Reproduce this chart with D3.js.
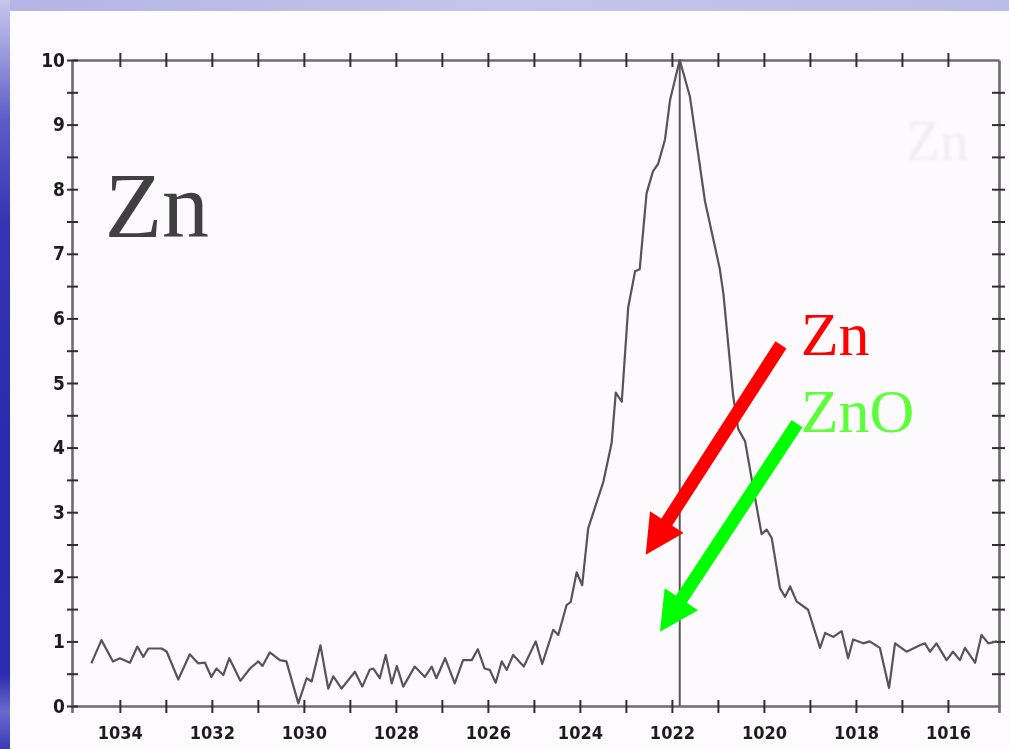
<!DOCTYPE html>
<html>
<head>
<meta charset="utf-8">
<script src="https://cdn.jsdelivr.net/npm/d3@7"></script>
<style>
  html, body { margin: 0; padding: 0; background: #fff; overflow: hidden; }
  svg { display: block; }
</style>
</head>
<body>
<div id="chart"></div>
<script>
const W = 1009;
const H = 749;

// spectrum (binding energy in eV, intensity in a.u.)
const bindingEnergy = [
  1034.62, 1034.40, 1034.15, 1034.00, 1033.78, 1033.62, 1033.49, 1033.38, 1033.09, 1032.98,
  1032.73, 1032.48, 1032.30, 1032.15, 1032.01, 1031.90, 1031.75, 1031.62, 1031.38, 1031.17,
  1030.99, 1030.90, 1030.74, 1030.52, 1030.38, 1030.12, 1029.94, 1029.83, 1029.64, 1029.47,
  1029.36, 1029.18, 1028.89, 1028.73, 1028.57, 1028.49, 1028.35, 1028.22, 1028.09, 1027.98,
  1027.84, 1027.59, 1027.37, 1027.22, 1027.12, 1026.93, 1026.72, 1026.54, 1026.35, 1026.22,
  1026.07, 1025.96, 1025.83, 1025.70, 1025.59, 1025.45, 1025.22, 1024.96, 1024.82, 1024.58,
  1024.47, 1024.29, 1024.20, 1024.07, 1023.95, 1023.82, 1023.49, 1023.31, 1023.22, 1023.09,
  1022.95, 1022.80, 1022.70, 1022.55, 1022.41, 1022.30, 1022.15, 1022.04, 1021.83, 1021.61,
  1021.28, 1020.96, 1020.88, 1020.67, 1020.56, 1020.41, 1020.20, 1020.05, 1019.94, 1019.83,
  1019.65, 1019.54, 1019.43, 1019.29, 1019.04, 1018.78, 1018.67, 1018.49, 1018.31, 1018.17,
  1018.06, 1017.84, 1017.70, 1017.48, 1017.28, 1017.15, 1016.90, 1016.61, 1016.50, 1016.39,
  1016.25, 1016.03, 1015.89, 1015.74, 1015.63, 1015.41, 1015.27, 1015.12, 1014.94
];
const intensity = [
  0.66, 1.02, 0.69, 0.74, 0.67, 0.92, 0.76, 0.89, 0.89, 0.84,
  0.41, 0.80, 0.66, 0.67, 0.45, 0.58, 0.48, 0.74, 0.39, 0.58,
  0.69, 0.62, 0.83, 0.71, 0.69, 0.04, 0.43, 0.38, 0.94, 0.27,
  0.46, 0.27, 0.53, 0.30, 0.56, 0.58, 0.43, 0.79, 0.35, 0.62,
  0.30, 0.61, 0.45, 0.61, 0.43, 0.74, 0.35, 0.71, 0.71, 0.88,
  0.58, 0.56, 0.36, 0.69, 0.56, 0.79, 0.61, 1.00, 0.65, 1.18,
  1.10, 1.56, 1.61, 2.07, 1.87, 2.75, 3.47, 4.07, 4.85, 4.71,
  6.17, 6.73, 6.76, 7.94, 8.28, 8.39, 8.77, 9.38, 10.0, 9.44,
  7.81, 6.77, 6.38, 4.81, 4.29, 4.10, 3.25, 2.66, 2.73, 2.60,
  1.82, 1.69, 1.85, 1.62, 1.49, 0.90, 1.13, 1.07, 1.16, 0.74,
  1.03, 0.97, 1.00, 0.90, 0.28, 0.97, 0.84, 0.94, 0.97, 0.84,
  0.97, 0.71, 0.84, 0.71, 0.90, 0.67, 1.10, 0.97, 1.00
];

const xDomain = [1035.04, 1014.89];
const yDomain = [0, 10];
const xTickValues = d3.range(1016, 1035, 1);      // every eV, labels on even ones
const yTickValues = d3.range(0, 10.01, 0.5);      // every half unit, labels on integers
const peakPosition = 1021.83;

// annotations, in data units
const bigLabel = { text: 'Zn', be: 1034.33, y: 7.26 };
const arrows = [
  { name: 'Zn',  color: '#ff0000', text: '#ff0000', from: [1019.63, 5.59], to: [1022.57, 2.34], label: [1019.20, 5.43] },
  { name: 'ZnO', color: '#00ff00', text: '#5cff3a', from: [1019.28, 4.37], to: [1022.26, 1.15], label: [1019.20, 4.24] }
];

const x = d3.scaleLinear().domain(xDomain).range([72, 999]);
const y = d3.scaleLinear().domain(yDomain).range([706, 60]);

const svg = d3.select('#chart').append('svg')
  .attr('width', W)
  .attr('height', H)
  .attr('viewBox', `0 0 ${W} ${H}`);

const defs = svg.append('defs');

// slide background: light band on top, blue strip on the left
const leftGrad = defs.append('linearGradient')
  .attr('id', 'leftGrad').attr('x1', 0).attr('y1', 0).attr('x2', 0).attr('y2', 1);
[
  [0, '#c6c6ee'], [0.06, '#a2a2e0'], [0.16, '#5c5cc8'], [0.3, '#3434b4'],
  [0.6, '#2a2aae'], [0.9, '#2c2cb0'], [0.95, '#6a6acc'], [1, '#3a3ab6']
].forEach(([o, c]) => leftGrad.append('stop').attr('offset', o).attr('stop-color', c));

const topGrad = defs.append('linearGradient')
  .attr('id', 'topGrad').attr('x1', 0).attr('y1', 0).attr('x2', 1).attr('y2', 0);
topGrad.append('stop').attr('offset', 0).attr('stop-color', '#b4b4e4');
topGrad.append('stop').attr('offset', 0.5).attr('stop-color', '#c4c4ec');
topGrad.append('stop').attr('offset', 1).attr('stop-color', '#bcbce8');

defs.append('filter').attr('id', 'soft')
  .append('feGaussianBlur').attr('stdDeviation', 0.55);
defs.append('filter').attr('id', 'ghost')
  .append('feGaussianBlur').attr('stdDeviation', 1.5);

svg.append('rect').attr('width', W).attr('height', H).attr('fill', '#fdfbfd');
svg.append('rect').attr('width', W).attr('height', 11).attr('fill', 'url(#topGrad)');
svg.append('rect').attr('width', 10).attr('height', H).attr('fill', 'url(#leftGrad)');

// plot area tint
svg.append('rect')
  .attr('x', x(xDomain[0])).attr('y', y(10))
  .attr('width', x(xDomain[1]) - x(xDomain[0]))
  .attr('height', y(0) - y(10))
  .attr('fill', '#fcfafc');

// faint ghost of the scanned page
svg.append('text')
  .attr('x', 906).attr('y', 160)
  .attr('font-family', 'Liberation Serif, serif')
  .attr('font-size', 56)
  .attr('fill', '#efedf1')
  .attr('filter', 'url(#ghost)')
  .text('Zn');

const chart = svg.append('g').attr('filter', 'url(#soft)');

const labelFont = 'DejaVu Sans Condensed, DejaVu Sans, sans-serif';

function styleAxis(g) {
  g.select('.domain').attr('stroke', '#6c6c6c').attr('stroke-width', 2.6);
  g.selectAll('.tick line').attr('stroke', '#2e2e2e').attr('stroke-width', 2);
  g.selectAll('.tick text')
    .attr('fill', '#1e1e1e')
    .attr('font-family', labelFont)
    .attr('font-weight', 'bold')
    .attr('font-size', 18);
}

// bottom axis
const xBottom = chart.append('g')
  .attr('transform', `translate(0,${y(0)})`)
  .call(d3.axisBottom(x).tickValues(xTickValues).tickSizeOuter(0).tickSize(7)
    .tickFormat(d => (d % 2 === 0 ? d : '')))
  .call(styleAxis);
xBottom.selectAll('.tick line').attr('y1', -6).attr('y2', 7);
xBottom.selectAll('.tick text').attr('y', 20).attr('dy', '0.71em');

// top axis
const xTop = chart.append('g')
  .attr('transform', `translate(0,${y(10)})`)
  .call(d3.axisTop(x).tickValues(xTickValues).tickSizeOuter(0).tickFormat(''))
  .call(styleAxis);
xTop.selectAll('.tick line').attr('y1', -7).attr('y2', 7);

// left axis
const yLeft = chart.append('g')
  .attr('transform', `translate(${x(xDomain[0])},0)`)
  .call(d3.axisLeft(y).tickValues(yTickValues).tickSizeOuter(0)
    .tickFormat(d => (Number.isInteger(d) ? d : '')))
  .call(styleAxis);
yLeft.selectAll('.tick line').attr('x1', -5).attr('x2', 6);
yLeft.selectAll('.tick text').attr('x', -7).attr('font-size', 19);

// right axis
const yRight = chart.append('g')
  .attr('transform', `translate(${x(xDomain[1])},0)`)
  .call(d3.axisRight(y).tickValues(yTickValues.filter(v => v > 0 && v < 10)).tickSizeOuter(0).tickFormat(''))
  .call(styleAxis);
yRight.selectAll('.tick line').attr('x1', -7).attr('x2', 6);

// reference line at the Zn 2p3/2 peak
chart.append('line')
  .attr('x1', x(peakPosition)).attr('x2', x(peakPosition))
  .attr('y1', y(0)).attr('y2', y(10))
  .attr('stroke', '#585858')
  .attr('stroke-width', 2);

// spectrum
const points = bindingEnergy.map((be, i) => ({ be, v: intensity[i] }));
chart.append('path')
  .datum(points)
  .attr('fill', 'none')
  .attr('stroke', '#555')
  .attr('stroke-width', 2.2)
  .attr('stroke-linejoin', 'round')
  .attr('d', d3.line().x(d => x(d.be)).y(d => y(d.v)));

// big element label
svg.append('text')
  .attr('x', x(bigLabel.be)).attr('y', y(bigLabel.y))
  .attr('font-family', 'Liberation Serif, Times New Roman, serif')
  .attr('font-size', 94)
  .attr('fill', '#404040')
  .text(bigLabel.text);

// coloured arrows + labels
const HEAD_LEN = 39;
const HEAD_HALF = 20;
arrows.forEach(a => {
  const p0 = [x(a.from[0]), y(a.from[1])];
  const p1 = [x(a.to[0]), y(a.to[1])];
  const dx = p1[0] - p0[0], dy = p1[1] - p0[1];
  const len = Math.hypot(dx, dy);
  const ux = dx / len, uy = dy / len;
  const bx = p1[0] - ux * HEAD_LEN, by = p1[1] - uy * HEAD_LEN;
  const px = -uy, py = ux;
  const g = svg.append('g');
  g.append('line')
    .attr('x1', p0[0]).attr('y1', p0[1])
    .attr('x2', bx + ux * 2).attr('y2', by + uy * 2)
    .attr('stroke', a.color)
    .attr('stroke-width', 13);
  g.append('path')
    .attr('d', `M${p1[0]},${p1[1]}L${bx + px * HEAD_HALF},${by + py * HEAD_HALF}L${bx - px * HEAD_HALF},${by - py * HEAD_HALF}Z`)
    .attr('fill', a.color);
  svg.append('text')
    .attr('x', x(a.label[0])).attr('y', y(a.label[1]))
    .attr('font-family', 'Liberation Serif, Times New Roman, serif')
    .attr('font-size', 62)
    .attr('fill', a.text)
    .text(a.name);
});
</script>
</body>
</html>
